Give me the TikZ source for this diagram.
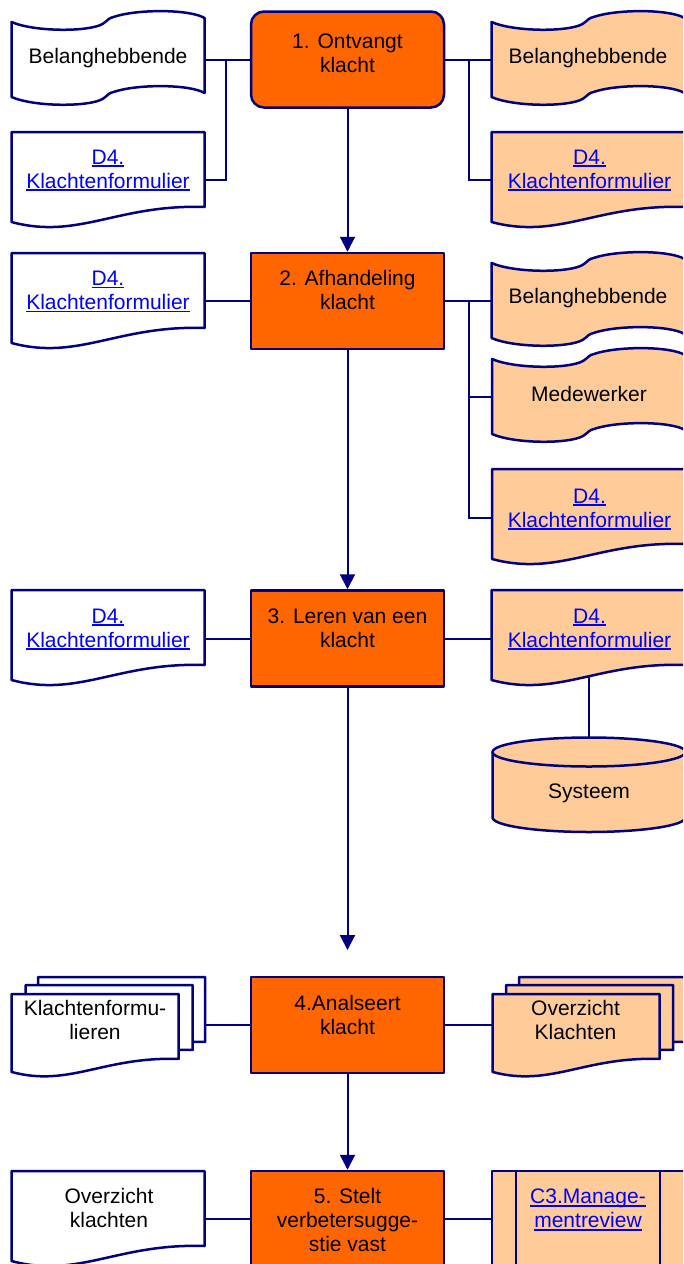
\documentclass[tikz,border=0pt]{standalone}
\usepackage{fontspec}
\setmainfont{Liberation Sans}
\usetikzlibrary{arrows.meta}
\definecolor{navy}{RGB}{0,0,128}
\definecolor{procorange}{RGB}{255,102,0}
\definecolor{peach}{RGB}{255,204,153}
\definecolor{linkblue}{RGB}{0,0,255}
\newcommand\lnk[1]{\textcolor{linkblue}{\setbox0\hbox{#1}\rlap{\rule[-3pt]{\wd0}{1.6pt}}\box0}}
% punched-tape shape: left x, top-left y, fill
\newcommand\tapeshape[3]{%
\begin{scope}[shift={(#1,#2)}]
\draw[shp,fill=#3] (0,0) .. controls (23,10) and (77,10) .. (91,2)
  .. controls (97,-2) and (97,-4) .. (102,-5)
  .. controls (125,-13) and (178,-13) .. (193,-4) -- (193,71)
  .. controls (178,62) and (125,62) .. (102,70)
  .. controls (97,71) and (97,73) .. (91,77)
  .. controls (77,85) and (23,85) .. (0,75) -- cycle;
\end{scope}}
% document shape: left x, top y, scale, fill
\newcommand\docshape[4]{%
\begin{scope}[shift={(#1,#2)},scale=#3]
\draw[shp,fill=#4] (0,0) -- (193,0) -- (193,75) .. controls (106,72) and (67,108) .. (0,90) -- cycle;
\end{scope}}
\begin{document}
\begin{tikzpicture}[x=1pt,y=-1pt,
 shp/.style={draw=navy, line width=2.5pt, line join=round},
 con/.style={draw=navy, line width=2pt},
 arr/.style={con, -{Triangle[width=15pt,length=15pt]}},
 proc/.style={shp, fill=procorange, minimum width=193pt, minimum height=96pt, inner sep=0pt},
 txt/.style={align=center, inner sep=0pt, font=\fontsize{21pt}{24pt}\selectfont}]
\useasboundingbox (0,0) rectangle (683,1264);
\clip (0,0) rectangle (683,1264);

% process boxes
\node[proc, rounded corners=13pt] (p1) at (347.5,59.5) {};
\node[proc] (p2) at (347.5,301) {};
\node[proc] (p3) at (347.5,638.5) {};
\node[proc] (p4) at (347.5,1025) {};
\node[proc] (p5) at (347.5,1219) {};
\node[txt] (t1) at (347.5,52.9) {1. Ontvangt\\klacht};
\node[txt] (t2) at (347.5,289.9) {2. Afhandeling\\klacht};
\node[txt] (t3) at (347.5,628.2) {3. Leren van een\\klacht};
\node[txt] (t4) at (347.5,1014.9) {4.Analseert\\klacht};
\node[txt] (t5) at (347.5,1219.5) {5. Stelt\\verbetersugge-\\stie vast};

% row 1
\tapeshape{11.5}{22}{white}
\node[txt] (lb1t) at (108,57.9) {Belanghebbende};
\docshape{11.5}{132}{1}{white}
\node[txt] (ld1t) at (108,170.3) {\lnk{D4.}\\\lnk{Klachtenformulier}};
\tapeshape{491.5}{22}{peach}
\node[txt] (rb1t) at (588,57.9) {Belanghebbende};
\docshape{491.5}{132}{1}{peach}
\node[txt] (rd1t) at (589.5,170.3) {\lnk{D4.}\\\lnk{Klachtenformulier}};

% row 2
\docshape{11.5}{253}{1}{white}
\node[txt] (ld2t) at (108,291.5) {\lnk{D4.}\\\lnk{Klachtenformulier}};
\tapeshape{491.5}{263}{peach}
\node[txt] (rb2t) at (588,297.9) {Belanghebbende};
\tapeshape{492}{359}{peach}
\node[txt] (rm2t) at (589,394) {Medewerker};
\docshape{492}{469}{1}{peach}
\node[txt] (rd2t) at (589.5,509.3) {\lnk{D4.}\\\lnk{Klachtenformulier}};

% row 3
\docshape{11.5}{590}{1}{white}
\node[txt] (ld3t) at (108,629.3) {\lnk{D4.}\\\lnk{Klachtenformulier}};
\docshape{491.5}{590}{1}{peach}
\node[txt] (rd3t) at (589.5,629.3) {\lnk{D4.}\\\lnk{Klachtenformulier}};
\fill[peach] (492.5,752) -- (492.5,817.5) arc[start angle=180,end angle=360,x radius=96.5pt,y radius=14.5pt]
  -- (685.5,752) arc[start angle=0,end angle=180,x radius=96.5pt,y radius=14.5pt] -- cycle;
\draw[shp] (492.5,752) -- (492.5,817.5) arc[start angle=180,end angle=360,x radius=96.5pt,y radius=14.5pt] -- (685.5,752);
\draw[shp] (589,752) ellipse [x radius=96.5pt,y radius=14.5pt];
\node[txt] (cylt) at (589,792.9) {Systeem};

% row 4
\docshape{38}{977}{0.866}{white}
\docshape{25.5}{985}{0.866}{white}
\docshape{11.5}{994}{0.866}{white}
\node[txt] (ld4t) at (95,1019.9) {Klachtenformu-\\lieren};
\docshape{519}{977}{0.866}{peach}
\docshape{506}{985}{0.866}{peach}
\docshape{492.5}{994}{0.866}{peach}
\node[txt] (rd4t) at (575.5,1019.9) {Overzicht\\Klachten};

% row 5
\docshape{11.5}{1171}{1}{white}
\node[txt] (ld5t) at (109,1208.2) {Overzicht\\klachten};
\draw[shp,fill=peach] (492,1171) rectangle (700,1300);
\draw[shp] (516,1171) -- (516,1300);
\draw[shp] (660,1171) -- (660,1300);
\node[txt] (rp5t) at (588,1209.7) {\lnk{C3.Manage-}\\\lnk{mentreview}};

% connection points
\coordinate (lb1) at (204.5,59.5);
\coordinate (ld1) at (204.5,180);
\coordinate (jl1) at (226,59.5);
\coordinate (rb1) at (491.5,59.5);
\coordinate (rd1) at (491.5,180);
\coordinate (jr1) at (469,59.5);
\coordinate (ld2) at (204.5,301);
\coordinate (rb2) at (491.5,301);
\coordinate (jr2) at (469,301);
\coordinate (rm2) at (492,397);
\coordinate (rd2) at (492,518);
\coordinate (ld3) at (204.5,638.5);
\coordinate (rd3) at (491.5,638.5);
\coordinate (rd3b) at (589,676.5);
\coordinate (cyltop) at (589,737.5);
\coordinate (ld4) at (204.5,1025);
\coordinate (rd4) at (492.5,1025);
\coordinate (ld5) at (204.5,1219);
\coordinate (rp5) at (492,1219);
\coordinate (e3) at (347.5,950);

% connectors
\draw[con] (p1.west) -- (lb1);
\draw[con] (jl1) |- (ld1);
\draw[con] (p1.east) -- (rb1);
\draw[con] (jr1) |- (rd1);
\draw[con] (p2.west) -- (ld2);
\draw[con] (p2.east) -- (rb2);
\draw[con] (jr2) |- (rm2);
\draw[con] (jr2) |- (rd2);
\draw[con] (p3.west) -- (ld3);
\draw[con] (p3.east) -- (rd3);
\draw[con] (rd3b) -- (cyltop);
\draw[con] (p4.west) -- (ld4);
\draw[con] (p4.east) -- (rd4);
\draw[con] (p5.west) -- (ld5);
\draw[con] (p5.east) -- (rp5);

% flow arrows
\draw[arr] (p1.south) -- (p2.north);
\draw[arr] (p2.south) -- (p3.north);
\draw[arr] (p3.south) -- (e3);
\draw[arr] (p4.south) -- (p5.north);
\end{tikzpicture}
\end{document}
